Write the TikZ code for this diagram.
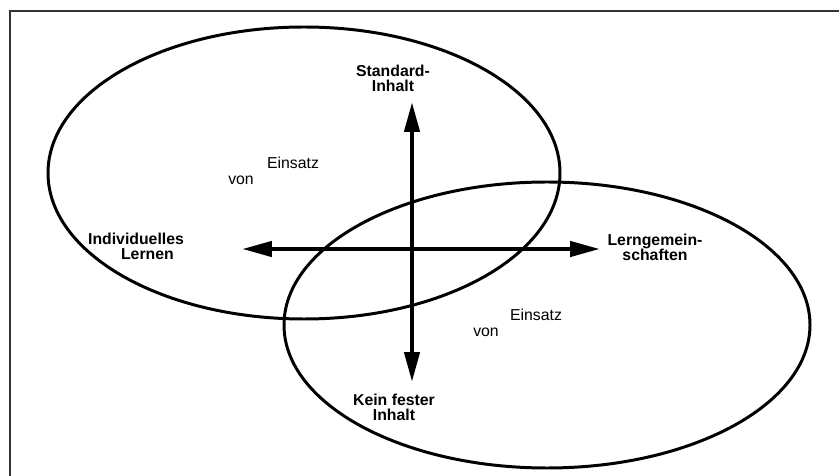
\documentclass[tikz,border=0pt]{standalone}
\usepackage{fontspec}
\setmainfont{Liberation Sans}
\usetikzlibrary{arrows.meta,positioning}
\definecolor{FrameGray}{RGB}{51,51,51}
\tikzset{
  axislabel/.style={font=\bfseries\fontsize{9}{8.6}\selectfont,align=center,
    inner sep=0pt},
  plainlabel/.style={font=\fontsize{9}{10}\selectfont,inner sep=0pt},
  region/.style={draw=black,line width=1.7pt},
  axis/.style={{Triangle[length=17pt,width=8.5pt]}-{Triangle[length=17pt,width=8.5pt]},
    line width=2.5pt,black}
}

\begin{document}
\begin{tikzpicture}[x=0.02cm,y=-0.02cm]
  \useasboundingbox (0,0) rectangle (839,476);
  \clip (0,0) rectangle (839,476);
  \fill[white] (0,0) rectangle (839,476);
  \draw[FrameGray,line width=1.2pt] (10,11) rectangle (880,520);

  % the two learning areas
  \draw[region] (304,173) ellipse [x radius=256, y radius=146];
  \draw[region] (547,325) ellipse [x radius=263, y radius=143];

  % axes
  \coordinate (up) at (412,102);
  \coordinate (down) at (412,382);
  \coordinate (left) at (242,249);
  \coordinate (right) at (600,249);
  \draw[axis] (down) -- (up);
  \draw[axis] (left) -- (right);

  \node[axislabel] (standard) at (393,78) {Standard-\\Inhalt};
  \node[axislabel] (kein) at (394,407) {Kein fester\\Inhalt};
  \node[axislabel] (indiv) at (136,246) {Individuelles\\\hspace*{13pt}Lernen};
  \node[axislabel] (gemein) at (655,247) {Lerngemein-\\schaften};

  \node[plainlabel] (einsatzA) at (293,163) {Einsatz};
  \node[plainlabel] (vonA) at (241,180) {von};
  \node[plainlabel] (einsatzB) at (536,315) {Einsatz};
  \node[plainlabel] (vonB) at (486,332) {von};
\end{tikzpicture}
\end{document}
